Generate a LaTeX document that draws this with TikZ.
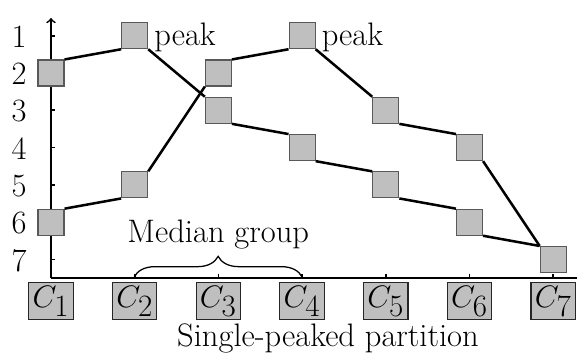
\documentclass[tikz,border=0pt]{standalone}
\usetikzlibrary{decorations.pathreplacing}
\begin{document}
\begin{tikzpicture}[x=0.5564pt,y=-0.5564pt,
  font=\fontsize{18.1}{21}\selectfont,
  sq/.style={draw=black!65, fill=black!25, minimum size=14.47pt, inner sep=0pt, line width=0.6pt},
  cand/.style={draw=black!85, fill=black!25, minimum width=24.7pt, minimum height=20.75pt, inner sep=0.6pt, line width=0.6pt},
  link/.style={line width=1.4pt},
  axisline/.style={line width=0.95pt},
  lbl/.style={inner sep=0pt}]
\useasboundingbox (0,0) rectangle (577,354);
% axes
\coordinate (O) at (51,277.7);
\coordinate (ytop) at (51,18);
\coordinate (xend) at (577,277.7);
\draw[axisline,->] (O) -- (ytop);
\draw[axisline] (O) -- (xend);
\foreach \r/\y in {1/35.7,2/73,3/110.3,4/147.6,5/184.9,6/222.2,7/259.5}{
  \draw[axisline] (51,\y) -- (55,\y);
  \node[lbl] (rank\r) at (19,\y+1) {\r};
}
\foreach \i/\x in {2/134.7,3/218.4,4/302.1,5/385.8,6/469.5,7/553.2}{
  \draw[axisline] (\x,277.7) -- (\x,274);
}
% squares: path A ranks 2,1,3,4,5,6,7 ; path B ranks 6,5,2,1,3,4,7
\node[sq] (a1) at (51,73) {};
\node[sq] (a2) at (134.7,35.7) {};
\node[sq] (a3) at (218.4,110.3) {};
\node[sq] (a4) at (302.1,147.6) {};
\node[sq] (a5) at (385.8,184.9) {};
\node[sq] (a6) at (469.5,222.2) {};
\node[sq] (s7) at (553.2,259.5) {};
\node[sq] (b1) at (51,222.2) {};
\node[sq] (b2) at (134.7,184.9) {};
\node[sq] (b3) at (218.4,73) {};
\node[sq] (b4) at (302.1,35.7) {};
\node[sq] (b5) at (385.8,110.3) {};
\node[sq] (b6) at (469.5,147.6) {};
% links
\draw[link] (a1.north east) -- (a2.south west);
\draw[link] (a2.south east) -- (a3.north west);
\draw[link] (a3.south east) -- (a4.north west);
\draw[link] (a4.south east) -- (a5.north west);
\draw[link] (a5.south east) -- (a6.north west);
\draw[link] (a6.south east) -- (s7.north west);
\draw[link] (b1.north east) -- (b2.south west);
\draw[link] (b2.north east) -- (b3.south west);
\draw[link] (b3.north east) -- (b4.south west);
\draw[link] (b4.south east) -- (b5.north west);
\draw[link] (b5.south east) -- (b6.north west);
\draw[link] (b6.south east) -- (s7.north west);
% peak labels
\node[anchor=west, inner sep=3.2pt, yshift=-0.8pt] (pk1) at (a2.east) {peak};
\node[anchor=west, inner sep=3.2pt, yshift=-0.8pt] (pk2) at (b4.east) {peak};
% candidates
\foreach \i/\x in {1/51,2/134.7,3/218.4,4/302.1,5/385.8,6/469.5,7/553.2}{
  \node[cand] (c\i) at (\x,301.3) {$C_{\textstyle\i}$};
}
% brace
\coordinate (br1) at (134.2,277);
\coordinate (br2) at (302.1,277);
\draw[line width=0.7pt, decorate, decoration={brace, amplitude=11.5pt}] (br1) -- (br2);
\node (med) at (218.3,235) {Median group};
\node (sp) at (328,338) {Single-peaked partition};
\end{tikzpicture}
\end{document}
